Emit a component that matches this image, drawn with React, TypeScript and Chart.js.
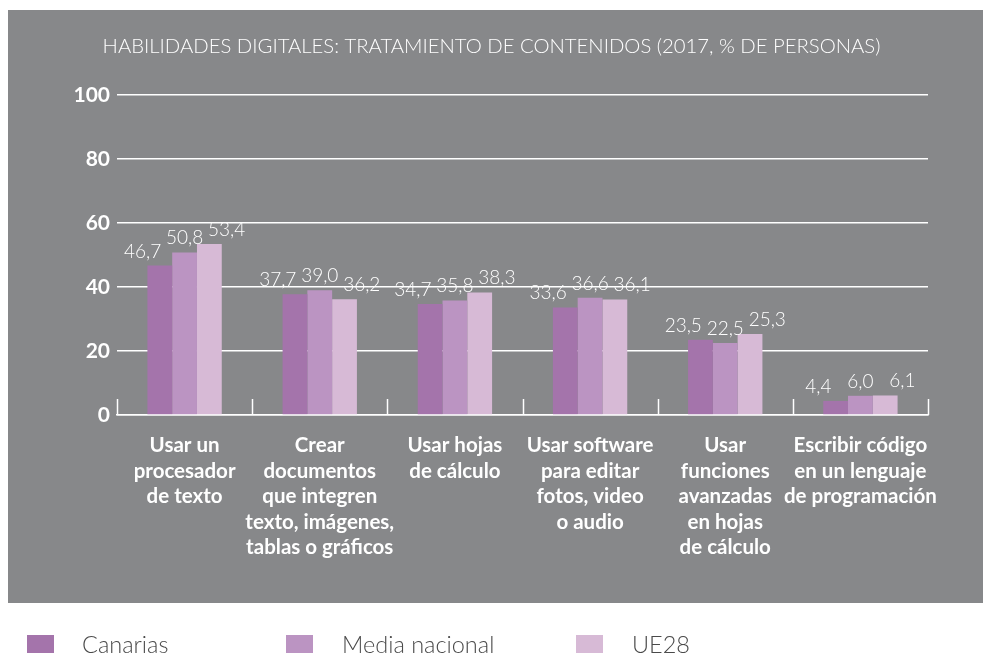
import React, { useEffect, useRef } from "react";
import { Chart, registerables } from "chart.js";

Chart.register(...registerables);

const titleText = "HABILIDADES DIGITALES: TRATAMIENTO DE CONTENIDOS (2017, % DE PERSONAS)";

const categories: string[][] = [
  ["Usar un", "procesador", "de texto"],
  ["Crear", "documentos", "que integren", "texto, imágenes,", "tablas o gráficos"],
  ["Usar hojas", "de cálculo"],
  ["Usar software", "para editar", "fotos, video", "o audio"],
  ["Usar", "funciones", "avanzadas", "en hojas", "de cálculo"],
  ["Escribir código", "en un lenguaje", "de programación"],
];

const seriesNames = ["Canarias", "Media nacional", "UE28"];
const canarias = [46.7, 37.7, 34.7, 33.6, 23.5, 4.4];
const mediaNacional = [50.8, 39.0, 35.8, 36.6, 22.5, 6.0];
const ue28 = [53.4, 36.2, 38.3, 36.1, 25.3, 6.1];
const seriesColors = ["#a474ab", "#bb94c2", "#d7bad6"];

const yTicks = [0, 20, 40, 60, 80, 100];

const PANEL = "#87888a";
const FONT = "Lato, 'Open Sans', sans-serif";

const fmt = (v: number) => v.toFixed(1).replace(".", ",");

const backgroundPlugin = {
  id: "panelBg",
  beforeDraw(chart: any) {
    const { ctx } = chart;
    ctx.save();
    ctx.fillStyle = "#ffffff";
    ctx.fillRect(0, 0, chart.width, chart.height);
    ctx.fillStyle = PANEL;
    ctx.fillRect(8, 10, chart.width - 8, 593);
    ctx.restore();
  },
};

const axisTicksPlugin = {
  id: "axisTicks",
  afterDatasetsDraw(chart: any) {
    const { ctx, chartArea } = chart;
    const x = chart.scales.x;
    const n = x.ticks.length;
    const step = (chartArea.right - chartArea.left) / n;
    ctx.save();
    ctx.strokeStyle = "#ffffff";
    ctx.lineWidth = 1.5;
    for (let k = 0; k <= n; k++) {
      const px = Math.round(chartArea.left + k * step) + 0.5;
      ctx.beginPath();
      ctx.moveTo(px, chartArea.bottom);
      ctx.lineTo(px, chartArea.bottom - 16);
      ctx.stroke();
    }
    ctx.restore();
  },
};

const valueLabelsPlugin = {
  id: "valueLabels",
  afterDatasetsDraw(chart: any) {
    const { ctx } = chart;
    const xScale = chart.scales.x;
    const nSets = chart.data.datasets.length;
    ctx.save();
    ctx.fillStyle = "#ffffff";
    ctx.font = `300 19px ${FONT}`;
    ctx.textAlign = "center";
    ctx.textBaseline = "alphabetic";
    chart.data.datasets.forEach((ds: any, di: number) => {
      const meta = chart.getDatasetMeta(di);
      meta.data.forEach((el: any, i: number) => {
        const center = xScale.getPixelForValue(i);
        const px = center + (di - (nSets - 1) / 2) * 42;
        ctx.fillText(fmt(ds.data[i]), px, el.y - 8);
      });
    });
    ctx.restore();
  },
};

const legendPlugin = {
  id: "customLegend",
  afterDraw(chart: any) {
    const { ctx } = chart;
    const boxX = [27, 286, 576];
    const textX = [82, 342, 632];
    ctx.save();
    ctx.font = `300 23.5px ${FONT}`;
    ctx.textBaseline = "alphabetic";
    ctx.textAlign = "left";
    chart.data.datasets.forEach((ds: any, di: number) => {
      ctx.fillStyle = ds.backgroundColor;
      ctx.fillRect(boxX[di], 635, 27, 27);
      ctx.fillStyle = "#4a4a4a";
      ctx.fillText(ds.label, textX[di], 653);
    });
    ctx.restore();
  },
};

export default function App() {
  const canvasRef = useRef<HTMLCanvasElement | null>(null);

  useEffect(() => {
    if (!canvasRef.current) return;
    const chart = new Chart(canvasRef.current, {
      type: "bar",
      data: {
        labels: categories,
        datasets: [canarias, mediaNacional, ue28].map((d, i) => ({
          label: seriesNames[i],
          data: d,
          backgroundColor: seriesColors[i],
          borderWidth: 0,
          categoryPercentage: 0.55,
          barPercentage: 1,
        })),
      },
      options: {
        animation: false,
        responsive: true,
        maintainAspectRatio: false,
        layout: { padding: { left: 0, right: 0, top: 0, bottom: 0 } },
        plugins: {
          legend: { display: false },
          tooltip: { enabled: false },
          title: {
            display: true,
            text: titleText,
            color: "#ffffff",
            font: { family: FONT, size: 20.3, weight: "300" as any, lineHeight: 1.2 },
            padding: { top: 34, bottom: 36.6 },
          },
        },
        scales: {
          x: {
            grid: { display: false, drawTicks: false },
            border: { display: true, color: "#ffffff", width: 1.5 },
            ticks: {
              color: "#ffffff",
              font: { family: FONT, size: 20.5, weight: "bold", lineHeight: 1.244 },
              padding: 18,
              maxRotation: 0,
              minRotation: 0,
              autoSkip: false,
            },
            afterFit: (scale: any) => {
              scale.height = 238;
            },
          },
          y: {
            min: 0,
            max: 100,
            afterBuildTicks: (scale: any) => {
              scale.ticks = yTicks.map((v) => ({ value: v }));
            },
            grid: { color: "#ffffff", lineWidth: 1.5, drawTicks: false },
            border: { display: false },
            ticks: {
              color: "#ffffff",
              font: { family: FONT, size: 21, weight: "bold" },
              padding: 7,
            },
            afterFit: (scale: any) => {
              scale.width = 117;
            },
          },
          yRight: {
            position: "right",
            display: true,
            min: 0,
            max: 100,
            grid: { display: false, drawTicks: false },
            border: { display: false },
            ticks: { display: false },
            afterFit: (scale: any) => {
              scale.width = 55;
            },
          },
        },
      },
      plugins: [backgroundPlugin, axisTicksPlugin, valueLabelsPlugin, legendPlugin],
    });
    return () => chart.destroy();
  }, []);

  return (
    <div style={{ position: "absolute", left: 0, top: 0, width: 983, height: 653, overflow: "hidden" }}>
      <canvas ref={canvasRef} />
    </div>
  );
}
